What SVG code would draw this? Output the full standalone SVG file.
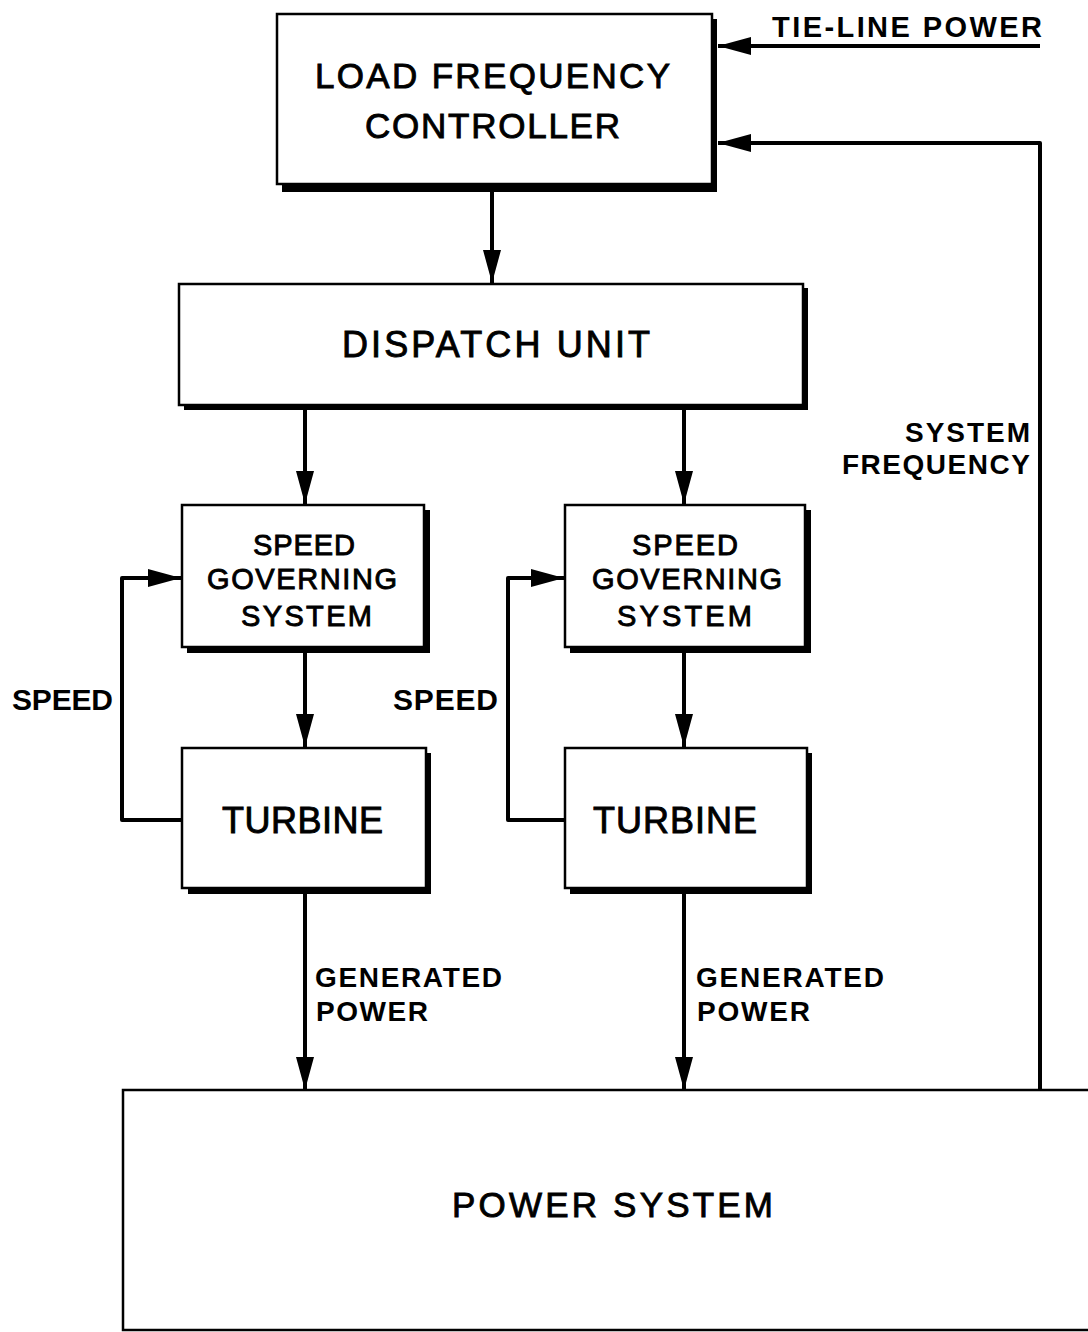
<svg xmlns="http://www.w3.org/2000/svg" width="1088" height="1332" viewBox="0 0 1088 1332">
<style>
.box{fill:#fff;stroke:#000;stroke-width:2.5}
.sh{fill:#000}
.t{font-family:"Liberation Sans",Arial,sans-serif;fill:#000;stroke:#000;stroke-width:0.9}
.lbl{font-family:"Liberation Sans",Arial,sans-serif;font-weight:bold;fill:#000}
.ln{fill:none;stroke:#000;stroke-width:4;stroke-linejoin:round}
</style>
<defs>
<marker id="ah" markerUnits="userSpaceOnUse" markerWidth="34" markerHeight="18" refX="33" refY="9" orient="auto">
<path d="M0,0 L33,9 L0,18 Z" fill="#000"/>
</marker>
</defs>
<rect width="1088" height="1332" fill="#fff"/>

<g id="lfc">
<rect class="sh" x="282" y="19" width="435" height="173"/>
<rect class="box" x="277" y="14" width="435" height="170"/>
<text class="t" x="315" y="88" font-size="35" textLength="355" lengthAdjust="spacing">LOAD FREQUENCY</text>
<text class="t" x="365" y="138" font-size="35" textLength="255" lengthAdjust="spacing">CONTROLLER</text>
</g>

<g id="dispatch">
<rect class="sh" x="184" y="288" width="624" height="122"/>
<rect class="box" x="179" y="284" width="624" height="121"/>
<text class="t" x="342" y="357" font-size="36" textLength="308" lengthAdjust="spacing">DISPATCH UNIT</text>
</g>

<g id="sgs1">
<rect class="sh" x="187" y="510" width="243" height="143"/>
<rect class="box" x="182" y="505" width="242" height="142"/>
<text class="t" x="253" y="555" font-size="29" textLength="102" lengthAdjust="spacing">SPEED</text>
<text class="t" x="207" y="589" font-size="29" textLength="190" lengthAdjust="spacing">GOVERNING</text>
<text class="t" x="241" y="626" font-size="29" textLength="131" lengthAdjust="spacing">SYSTEM</text>
</g>

<g id="sgs2">
<rect class="sh" x="570" y="510" width="241" height="143"/>
<rect class="box" x="565" y="505" width="240" height="142"/>
<text class="t" x="632" y="555" font-size="29" textLength="106" lengthAdjust="spacing">SPEED</text>
<text class="t" x="592" y="589" font-size="29" textLength="190" lengthAdjust="spacing">GOVERNING</text>
<text class="t" x="617" y="626" font-size="29" textLength="135" lengthAdjust="spacing">SYSTEM</text>
</g>

<g id="turbine1">
<rect class="sh" x="188" y="753" width="243" height="141"/>
<rect class="box" x="182" y="748" width="244" height="140"/>
<text class="t" x="222" y="833" font-size="36" textLength="161" lengthAdjust="spacing">TURBINE</text>
</g>

<g id="turbine2">
<rect class="sh" x="570" y="753" width="242" height="141"/>
<rect class="box" x="565" y="748" width="242" height="140"/>
<text class="t" x="593" y="833" font-size="36" textLength="164" lengthAdjust="spacing">TURBINE</text>
</g>

<g id="power-system">
<rect class="box" x="123" y="1090" width="975" height="240"/>
<text class="t" x="452" y="1217" font-size="35" textLength="321" lengthAdjust="spacing">POWER SYSTEM</text>
</g>

<g id="connectors">
<path class="ln" d="M1040,46 L718,46" marker-end="url(#ah)"/>
<path class="ln" d="M1040,1090 L1040,143 L718,143" marker-end="url(#ah)"/>
<path class="ln" d="M492,184 L492,283" marker-end="url(#ah)"/>
<path class="ln" d="M305,405 L305,504" marker-end="url(#ah)"/>
<path class="ln" d="M684,405 L684,504" marker-end="url(#ah)"/>
<path class="ln" d="M305,647 L305,747" marker-end="url(#ah)"/>
<path class="ln" d="M684,647 L684,747" marker-end="url(#ah)"/>
<path class="ln" d="M182,820 L122,820 L122,578 L181,578" marker-end="url(#ah)"/>
<path class="ln" d="M565,820 L508,820 L508,578 L564,578" marker-end="url(#ah)"/>
<path class="ln" d="M305,888 L305,1090" marker-end="url(#ah)"/>
<path class="ln" d="M684,888 L684,1090" marker-end="url(#ah)"/>
</g>

<g id="labels">
<text class="lbl" x="772" y="37" font-size="29" textLength="270" lengthAdjust="spacing">TIE-LINE POWER</text>
<text class="lbl" x="905" y="442" font-size="28" textLength="125" lengthAdjust="spacing">SYSTEM</text>
<text class="lbl" x="842" y="474" font-size="28" textLength="188" lengthAdjust="spacing">FREQUENCY</text>
<text class="lbl" x="12" y="710" font-size="30" textLength="101" lengthAdjust="spacing">SPEED</text>
<text class="lbl" x="393" y="710" font-size="30" textLength="105" lengthAdjust="spacing">SPEED</text>
<text class="lbl" x="315" y="987" font-size="28" textLength="187" lengthAdjust="spacing">GENERATED</text>
<text class="lbl" x="316" y="1021" font-size="28" textLength="112" lengthAdjust="spacing">POWER</text>
<text class="lbl" x="696" y="987" font-size="28" textLength="188" lengthAdjust="spacing">GENERATED</text>
<text class="lbl" x="697" y="1021" font-size="28" textLength="113" lengthAdjust="spacing">POWER</text>
</g>
</svg>
